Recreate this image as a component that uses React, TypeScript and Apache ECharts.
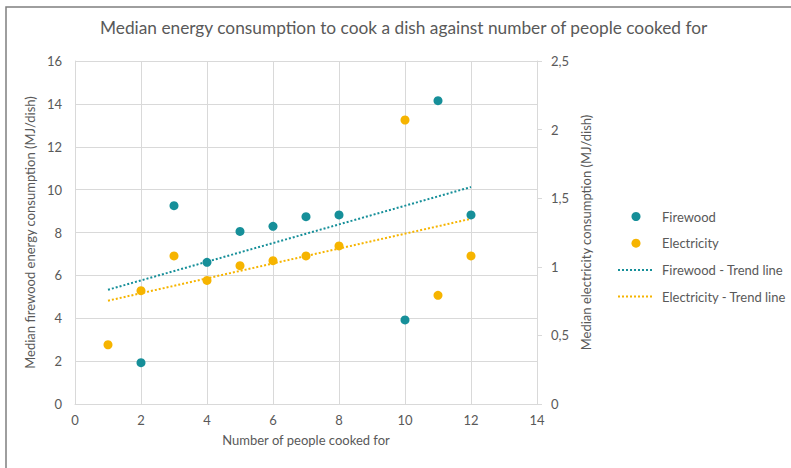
import React, { useEffect, useRef } from "react";
import * as echarts from "echarts";

const firewoodX = [2, 3, 4, 5, 6, 7, 8, 10, 11, 12];
const firewoodY = [1.93, 9.25, 6.61, 8.05, 8.29, 8.74, 8.82, 3.92, 14.15, 8.82];
const electricityX = [1, 2, 3, 4, 5, 6, 7, 8, 10, 11, 12];
const electricityY = [0.432, 0.826, 1.079, 0.901, 1.008, 1.045, 1.079, 1.152, 2.07, 0.792, 1.079];
const firewoodTrendX = [1, 12];
const firewoodTrendY = [5.33, 10.12];
const electricityTrendX = [1, 12];
const electricityTrendY = [0.753, 1.35];

const xTicks = { min: 0, max: 14, interval: 2 };
const leftTicks = { min: 0, max: 16, interval: 2 };
const rightTicks = { min: 0, max: 2.5, interval: 0.5 };

const TEAL = "#168f99";
const GOLD = "#f6b400";
const TXT = "#595959";
const GRID = "#d9d9d9";
const FONT = "Lato, 'Open Sans', sans-serif";
const FS = 13;

const pairs = (xs: number[], ys: number[]) => xs.map((x, i) => [x, ys[i]]);

export default function App() {
  const ref = useRef<HTMLDivElement>(null);
  useEffect(() => {
    document.body.style.margin = "0";
    const chart = echarts.init(ref.current!, undefined, { renderer: "svg" });
    chart.setOption({
      animation: false,
      backgroundColor: "#ffffff",
      textStyle: { fontFamily: FONT, color: TXT },
      title: {
        text: "Median energy consumption to cook a dish against number of people cooked for",
        left: 95,
        top: 14,
        textStyle: { fontFamily: FONT, fontSize: 17.3, fontWeight: "normal", color: TXT },
      },
      graphic: [
        {
          type: "rect",
          shape: { x: 6, y: 7, width: 900, height: 600 },
          style: { fill: "none", stroke: "#7f7f7f", lineWidth: 1.5 },
          silent: true,
        },
      ],
      grid: { left: 75, right: 254, top: 61, bottom: 64 },
      legend: {
        orient: "vertical",
        left: 612,
        top: 205,
        itemWidth: 36,
        itemHeight: 9,
        itemGap: 13.7,
        textStyle: { fontFamily: FONT, fontSize: FS, color: TXT, padding: [0, 0, 0, 3] },
        data: [
          { name: "Firewood", icon: "circle" },
          { name: "Electricity", icon: "circle" },
          { name: "Firewood - Trend line", itemStyle: { opacity: 0 } },
          { name: "Electricity - Trend line", itemStyle: { opacity: 0 } },
        ],
      },
      xAxis: {
        type: "value",
        ...xTicks,
        name: "Number of people cooked for",
        nameLocation: "middle",
        nameGap: 29,
        nameTextStyle: { fontFamily: FONT, fontSize: FS, color: TXT },
        axisLine: { show: true, lineStyle: { color: GRID } },
        axisTick: { show: false },
        axisLabel: { margin: 9, fontFamily: FONT, fontSize: FS, color: TXT },
        splitLine: { show: true, lineStyle: { color: GRID } },
      },
      yAxis: [
        {
          type: "value",
          ...leftTicks,
          position: "left",
          name: "Median firewood energy consumption (MJ/dish)",
          nameLocation: "middle",
          nameGap: 33,
          nameTextStyle: { fontFamily: FONT, fontSize: FS, color: TXT },
          axisLine: { show: true, lineStyle: { color: GRID } },
          axisTick: { show: false },
          axisLabel: { margin: 13, fontFamily: FONT, fontSize: FS, color: TXT },
          splitLine: { show: true, lineStyle: { color: GRID } },
        },
        {
          type: "value",
          ...rightTicks,
          position: "right",
          name: "Median electricity consumption (MJ/dish)",
          nameLocation: "middle",
          nameGap: 41,
          nameTextStyle: { fontFamily: FONT, fontSize: FS, color: TXT },
          axisLine: { show: true, lineStyle: { color: GRID } },
          axisTick: { show: true, length: 5, lineStyle: { color: GRID } },
          axisLabel: {
            margin: 14,
            fontFamily: FONT,
            fontSize: FS,
            color: TXT,
            formatter: (v: number) => String(v).replace(".", ","),
          },
          splitLine: { show: false },
        },
      ],
      series: [
        {
          name: "Firewood",
          type: "scatter",
          yAxisIndex: 0,
          symbolSize: 9,
          itemStyle: { color: TEAL, opacity: 1 },
          data: pairs(firewoodX, firewoodY),
          z: 3,
        },
        {
          name: "Electricity",
          type: "scatter",
          yAxisIndex: 1,
          symbolSize: 9,
          itemStyle: { color: GOLD, opacity: 1 },
          data: pairs(electricityX, electricityY),
          z: 3,
        },
        {
          name: "Firewood - Trend line",
          type: "line",
          yAxisIndex: 0,
          symbol: "none",
          itemStyle: { color: TEAL },
          lineStyle: { color: TEAL, width: 2, type: [2, 2] },
          data: pairs(firewoodTrendX, firewoodTrendY),
          z: 2,
        },
        {
          name: "Electricity - Trend line",
          type: "line",
          yAxisIndex: 1,
          symbol: "none",
          itemStyle: { color: GOLD },
          lineStyle: { color: GOLD, width: 2, type: [2, 2] },
          data: pairs(electricityTrendX, electricityTrendY),
          z: 2,
        },
      ],
    });
    return () => chart.dispose();
  }, []);
  return <div ref={ref} style={{ width: 791, height: 468 }} />;
}
